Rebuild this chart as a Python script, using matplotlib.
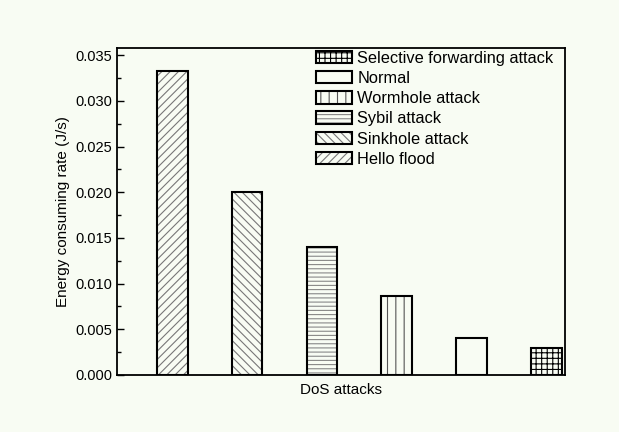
import numpy as np
import matplotlib.pyplot as plt
from matplotlib.colors import to_rgba
from matplotlib.ticker import MultipleLocator

plt.rcParams['font.family'] = ['Liberation Sans', 'DejaVu Sans']
plt.rcParams['hatch.linewidth'] = 0.8

# Energy consuming rate for each DoS attack
attacks = ['Hello flood', 'Sinkhole attack', 'Sybil attack',
           'Wormhole attack', 'Normal', 'Selective forwarding attack']
rates = [0.0333, 0.0200, 0.0140, 0.0087, 0.0040, 0.0030]
hatches = ['////', '\\\\\\\\', '----', '||', '', '+++']
hatch_colors = ['#777777', '#777777', '#888888', '#555555', 'black', 'black']

bg = '#f8fcf3'
fig = plt.figure(figsize=(6.19, 4.32), dpi=100, facecolor=bg)
ax = fig.add_axes([117 / 619, 1 - 375 / 432, 448 / 619, 327 / 432], facecolor=bg)

x = np.arange(1, len(attacks) + 1)
bars = []
for xi, r, h, hc in zip(x, rates, hatches, hatch_colors):
    b = ax.bar(xi, r, width=0.41, facecolor=bg, edgecolor='black',
               linewidth=1.5, hatch=h)
    b[0]._hatch_color = to_rgba(hc)
    bars.append(b[0])

ax.set_xlim(0.26, 6.25)
ax.set_ylim(0, 0.0358)
ax.set_xticks([])
ax.yaxis.set_major_locator(MultipleLocator(0.005))
ax.yaxis.set_minor_locator(MultipleLocator(0.0025))
ax.yaxis.set_major_formatter(plt.FormatStrFormatter('%.3f'))
ax.tick_params(axis='y', direction='in', length=5, width=1, labelsize=10.5)
ax.tick_params(axis='y', which='minor', direction='in', length=3, width=1)
for s in ax.spines.values():
    s.set_linewidth(1.3)

ax.set_ylabel('Energy consuming rate (J/s)', fontsize=11)
ax.set_xlabel('DoS attacks', fontsize=11, labelpad=6)

# legend lists the bars from right to left
ax.legend(bars[::-1], attacks[::-1], loc='upper left',
          frameon=False, fontsize=11.8, handlelength=2.2, handleheight=0.8,
          labelspacing=0.32, handletextpad=0.3, borderaxespad=0.0,
          bbox_to_anchor=(0.43, 1.012))

fig.savefig('out.png', dpi=100, facecolor=bg)
